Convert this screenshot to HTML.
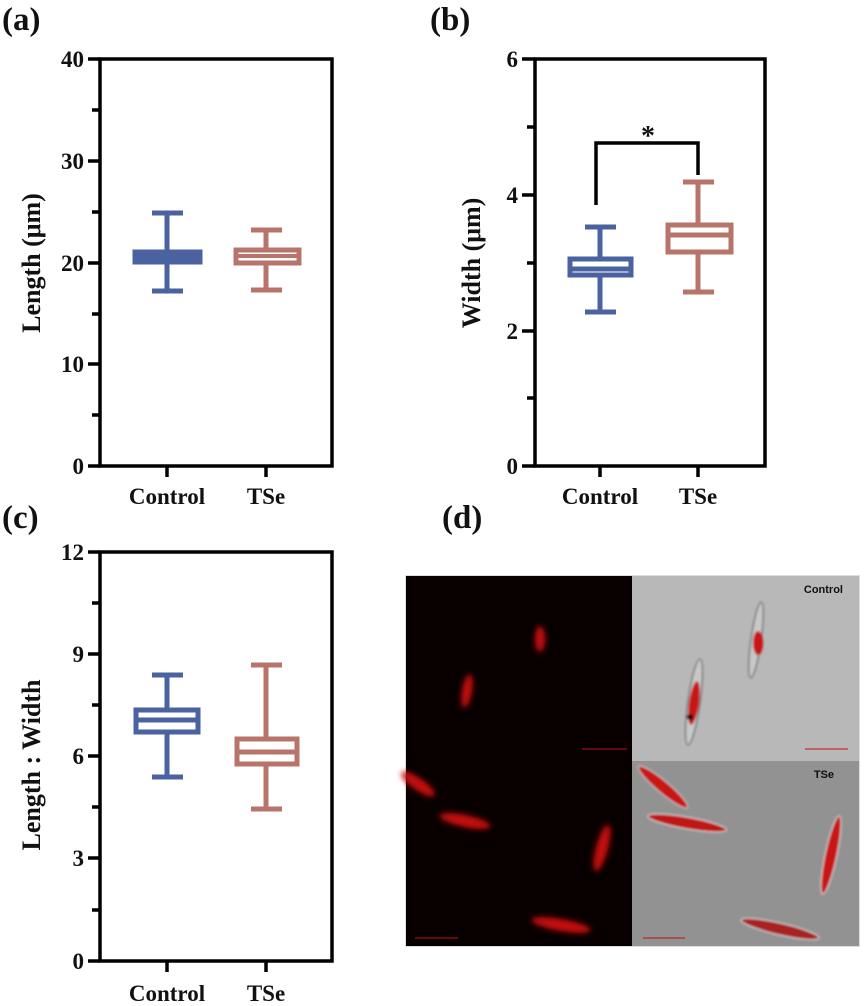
<!DOCTYPE html>
<html><head><meta charset="utf-8"><style>
html,body{margin:0;padding:0;background:#fff;}
svg{display:block;font-family:"Liberation Serif",serif;font-weight:bold;}
</style></head><body>
<svg width="866" height="1006" viewBox="0 0 866 1006" xmlns="http://www.w3.org/2000/svg">
<defs>
<filter id="bl" x="-50%" y="-50%" width="200%" height="200%"><feGaussianBlur stdDeviation="3"/></filter>
<filter id="bl2" x="-50%" y="-50%" width="200%" height="200%"><feGaussianBlur stdDeviation="1"/></filter>
</defs>
<g font-size="33" fill="#111">
<text x="2" y="30">(a)</text>
<text x="430" y="30">(b)</text>
<text x="2" y="528">(c)</text>
<text x="442" y="528">(d)</text>
</g>

<!-- Panel a -->
<g stroke="#000" stroke-width="3.5" fill="none">
<rect x="100" y="59" width="232" height="407"/>
<path d="M88 59H100M92 110H100M88 161H100M92 212H100M88 263H100M92 314H100M88 364H100M92 415H100M88 466H100M167 466V477M266 466V477"/>
</g>
<g font-size="23" text-anchor="end" fill="#111">
<text x="84" y="67">40</text><text x="84" y="169">30</text><text x="84" y="271">20</text><text x="84" y="372">10</text><text x="84" y="474">0</text>
</g>
<text transform="translate(40,263) rotate(-90)" text-anchor="middle" font-size="26" fill="#111">Length (μm)</text>
<g font-size="23" text-anchor="middle" fill="#111"><text x="167" y="504">Control</text><text x="266" y="504">TSe</text></g>
<g stroke="#4a62a0" stroke-width="5" fill="none">
<path d="M167 213V291M152 213H183M152 291H183"/>
<rect x="135" y="252" width="65" height="10" fill="#4a62a0"/>
</g>
<g stroke="#b8746a" stroke-width="5" fill="none">
<path d="M266 230V249M266 264V290M251 230H282M251 290H282"/>
<rect x="236" y="250" width="63" height="13"/>
<path d="M236 256H299" stroke-width="4"/>
</g>

<!-- Panel b -->
<g stroke="#000" stroke-width="3.5" fill="none">
<rect x="535" y="59" width="230" height="407"/>
<path d="M522 59H535M527 127H535M522 195H535M527 263H535M522 331H535M527 398H535M522 466H535M600 466V477M698 466V477"/>
<path d="M596 205V143H698V175" stroke-width="3.5"/>
</g>
<g font-size="23" text-anchor="end" fill="#111">
<text x="518" y="67">6</text><text x="518" y="203">4</text><text x="518" y="339">2</text><text x="518" y="474">0</text>
</g>
<text x="648" y="145" text-anchor="middle" font-size="28" fill="#111">*</text>
<text transform="translate(480,263) rotate(-90)" text-anchor="middle" font-size="26" fill="#111">Width (μm)</text>
<g font-size="23" text-anchor="middle" fill="#111"><text x="600" y="504">Control</text><text x="698" y="504">TSe</text></g>
<g stroke="#4a62a0" stroke-width="5" fill="none">
<path d="M600 227V258M600 276V312M585 227H616M585 312H616"/>
<rect x="570" y="259" width="61" height="16"/>
<path d="M570 269H631" stroke-width="5"/>
</g>
<g stroke="#b8746a" stroke-width="5" fill="none">
<path d="M698 182V224M698 253V292M683 182H714M683 292H714"/>
<rect x="668" y="225" width="63" height="27"/>
<path d="M668 235H731"/>
</g>

<!-- Panel c -->
<g stroke="#000" stroke-width="3.5" fill="none">
<rect x="100" y="552" width="232" height="409"/>
<path d="M88 552H100M92 603H100M88 654H100M92 705H100M88 756H100M92 807H100M88 858H100M92 910H100M88 961H100M167 961V972M266 961V972"/>
</g>
<g font-size="23" text-anchor="end" fill="#111">
<text x="84" y="560">12</text><text x="84" y="662">9</text><text x="84" y="764">6</text><text x="84" y="866">3</text><text x="84" y="969">0</text>
</g>
<text transform="translate(40,765) rotate(-90)" text-anchor="middle" font-size="26" fill="#111">Length : Width</text>
<g font-size="23" text-anchor="middle" fill="#111"><text x="167" y="1001">Control</text><text x="266" y="1001">TSe</text></g>
<g stroke="#4a62a0" stroke-width="5" fill="none">
<path d="M167 675V709M167 733V777M152 675H183M152 777H183"/>
<rect x="136" y="710" width="62" height="22"/>
<path d="M136 720H198"/>
</g>
<g stroke="#b8746a" stroke-width="5" fill="none">
<path d="M266 665V738M266 765V809M251 665H282M251 809H282"/>
<rect x="237" y="739" width="60" height="25"/>
<path d="M237 752H297"/>
</g>

<!-- Panel d -->
<rect x="405" y="575" width="455" height="372" fill="#ddd"/>
<rect x="406" y="576" width="226" height="185" fill="#080000"/>
<rect x="406" y="761" width="226" height="185" fill="#080000"/>
<rect x="632" y="576" width="227" height="185" fill="#b8b8b8"/>
<rect x="632" y="761" width="227" height="185" fill="#929292"/>
<g fill="#c81010" filter="url(#bl)">
<ellipse cx="540" cy="639" rx="5" ry="13"/>
<ellipse cx="467" cy="691" rx="5" ry="17" transform="rotate(10 467 691)"/>
<ellipse cx="418" cy="784" rx="20" ry="6" transform="rotate(35 418 784)"/>
<ellipse cx="465" cy="821" rx="26" ry="6" transform="rotate(12 465 821)"/>
<ellipse cx="602" cy="848" rx="6" ry="24" transform="rotate(15 602 848)"/>
<ellipse cx="561" cy="925" rx="30" ry="6" transform="rotate(10 561 925)"/>
</g>
<g filter="url(#bl2)">
<ellipse cx="694" cy="702" rx="6" ry="43" transform="rotate(8 694 702)" fill="#c8c8c8" stroke="#444"/>
<ellipse cx="694" cy="703" rx="5" ry="22" transform="rotate(8 694 703)" fill="#c81818"/>
<circle cx="690" cy="717" r="3" fill="#111"/>
<ellipse cx="756" cy="640" rx="5" ry="38" transform="rotate(8 756 640)" fill="#c8c8c8" stroke="#444"/>
<ellipse cx="758" cy="643" rx="5" ry="12" fill="#c81818"/>
<ellipse cx="663" cy="787" rx="32" ry="6" transform="rotate(40 663 787)" fill="#c81818" stroke="#ccc"/>
<ellipse cx="687" cy="823" rx="40" ry="6" transform="rotate(10 687 823)" fill="#c01818" stroke="#ddd"/>
<ellipse cx="831" cy="855" rx="6" ry="40" transform="rotate(12 831 855)" fill="#c81818" stroke="#ddd"/>
<ellipse cx="780" cy="929" rx="40" ry="6" transform="rotate(13 780 929)" fill="#a82020" stroke="#ddd"/>
</g>
<text x="843" y="593" text-anchor="end" font-family="Liberation Sans,sans-serif" font-size="11" fill="#111">Control</text>
<text x="834" y="778" text-anchor="end" font-family="Liberation Sans,sans-serif" font-size="11" fill="#111">TSe</text>
<g stroke="#c01010" stroke-width="1">
<path d="M582 749H627M805 749H848M415 938H458M643 938H685"/>
</g>
</svg>
</body></html>
